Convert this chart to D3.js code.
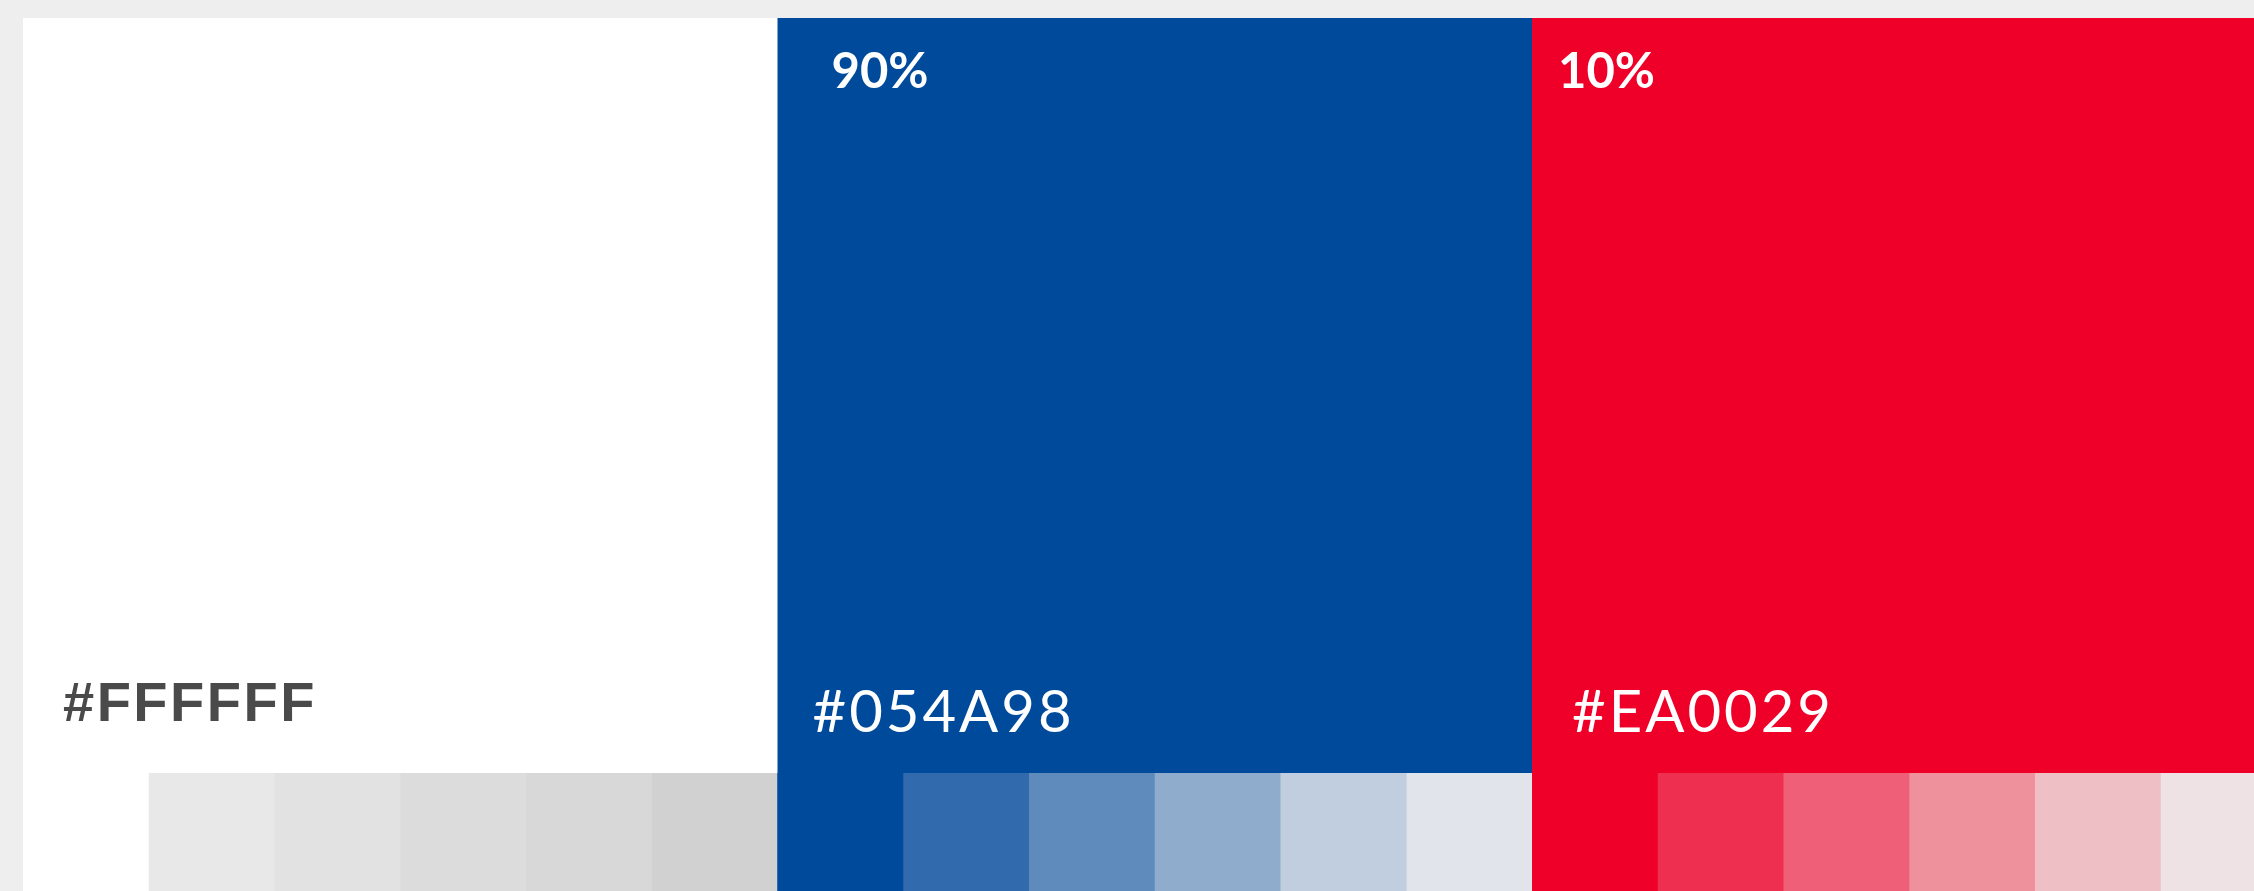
<!DOCTYPE html>
<html>
<head>
<meta charset="utf-8">
<script src="https://cdn.jsdelivr.net/npm/d3@7"></script>
<style>
  html, body { margin: 0; padding: 0; background: #eeeeee; overflow: hidden; }
  svg { display: block; }
</style>
</head>
<body>
<svg id="chart"></svg>
<script>
// couleurs de la charte
const colorNames = ["#FFFFFF", "#054A98", "#EA0029"];
const baseColors = ["#FFFFFF", "#004A9B", "#EF0029"];
const shares = [null, 90, 10];

// déclinaisons (de la couleur pleine vers la plus claire)
const tintsWhite = ["#FFFFFF", "#E8E8E8", "#E2E2E2", "#DCDCDC", "#D8D8D8", "#D1D1D1"];
const tintsBlue = ["#004A9B", "#316AAD", "#5F8BBC", "#8FACCD", "#C1CEDF", "#E1E5EB"];
const tintsRed = ["#EF0029", "#EF2F50", "#EF6078", "#EF909D", "#EFBFC6", "#EEE2E4"];
const tintSteps = [0, 1, 2, 3, 4, 5];

const width = 2254, height = 891;
const panelTop = 18, panelLeft = 23, panelW = 754.5, swatchTop = 773;

// petits réglages de placement des textes
const pctOffset = [0, 54, 26];
const labelOffset = [40, 35, 40];
const labelBaseline = [721, 732, 732];

const svg = d3.select("#chart")
    .attr("width", width)
    .attr("height", height);

const x = d3.scaleBand()
    .domain(colorNames)
    .range([panelLeft, panelLeft + panelW * colorNames.length])
    .paddingInner(0);

const xs = d3.scaleBand()
    .domain(tintSteps)
    .range([0, x.bandwidth()]);

const y = d3.scaleLinear()
    .domain([0, 1])
    .range([panelTop, height]);

const panels = colorNames.map((name, i) => ({
    name: name,
    color: baseColors[i],
    share: shares[i],
    tints: [tintsWhite, tintsBlue, tintsRed][i],
    i: i
}));

const g = svg.selectAll("g.panel")
    .data(panels)
    .join("g")
    .attr("class", "panel")
    .attr("transform", d => `translate(${x(d.name)},0)`);

// le grand aplat
g.append("rect")
    .attr("x", 0)
    .attr("y", y(0))
    .attr("width", x.bandwidth() + 0.5)
    .attr("height", y(1) - y(0))
    .attr("fill", d => d.color);

// la rangée de déclinaisons
g.selectAll("rect.tint")
    .data(d => d.tints.map((c, k) => ({ c: c, k: k })))
    .join("rect")
    .attr("class", "tint")
    .attr("x", d => xs(d.k))
    .attr("y", swatchTop)
    .attr("width", xs.bandwidth() + 0.5)
    .attr("height", height - swatchTop)
    .attr("fill", d => d.c);

// pourcentage
g.filter(d => d.share !== null)
    .append("text")
    .attr("x", d => pctOffset[d.i])
    .attr("y", 88)
    .attr("fill", "#ffffff")
    .style("font-family", "Lato, 'Noto Sans', sans-serif")
    .style("font-weight", 700)
    .style("font-size", "49px")
    .text(d => d.share + "%");

// code hexa
g.append("text")
    .attr("x", d => labelOffset[d.i])
    .attr("y", d => labelBaseline[d.i])
    .attr("fill", d => d.i === 0 ? "#4a4a4a" : "#ffffff")
    .style("font-family", d => d.i === 0 ? "'Liberation Sans', Arial, sans-serif" : "Lato, 'Noto Sans', sans-serif")
    .style("font-weight", d => d.i === 0 ? 700 : 400)
    .style("font-size", d => d.i === 0 ? "56px" : "58px")
    .style("letter-spacing", d => d.i === 0 ? "2.5px" : "3px")
    .text(d => d.name);
</script>
</body>
</html>
